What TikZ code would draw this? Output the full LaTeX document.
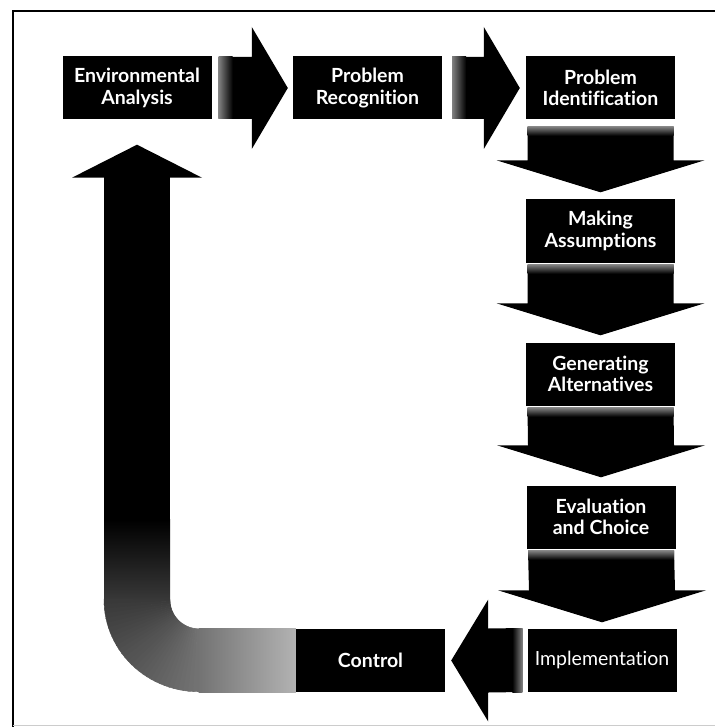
\documentclass[tikz,border=0pt]{standalone}
\usepackage{fontspec}
\setmainfont{Lato}[Ligatures=NoCommon]
\usetikzlibrary{calc}

% block arrow pointing right: tail point #1, tip point #2 (same height)
\newcommand\blockright[2]{%
  \fill[blockfill] ($(#1)+(0,-31)$) -- ($(#2)+(-36,-31)$) -- ($(#2)+(-36,-61)$) -- (#2)
    -- ($(#2)+(-36,61)$) -- ($(#2)+(-36,31)$) -- ($(#1)+(0,31)$) -- cycle;
  \shade[left color=black!50,right color=black] ($(#1)+(0,-31)$) rectangle ($(#1)+(14,31)$);
}
% block arrow pointing down: tail point #1, tip point #2
\newcommand\blockdown[2]{%
  \fill[blockfill] ($(#1)+(-73,0)$) -- ($(#2)+(-73,-32)$) -- ($(#2)+(-104,-32)$) -- (#2)
    -- ($(#2)+(104,-32)$) -- ($(#2)+(73,-32)$) -- ($(#1)+(73,0)$) -- cycle;
  \shade[top color=black!50,bottom color=black] ($(#1)+(-73,0)$) rectangle ($(#1)+(73,9)$);
}
% block arrow pointing left: tail point #1, tip point #2
\newcommand\blockleft[2]{%
  \fill[blockfill] ($(#1)+(0,-32)$) -- ($(#2)+(37,-32)$) -- ($(#2)+(37,-61)$) -- (#2)
    -- ($(#2)+(37,61)$) -- ($(#2)+(37,32)$) -- ($(#1)+(0,32)$) -- cycle;
  \shade[right color=black!50,left color=black] ($(#1)+(-10,-32)$) rectangle ($(#1)+(0,32)$);
}

\begin{document}
\begin{tikzpicture}[x=1pt,y=-1pt,
  stage/.style={fill=black,text=white,minimum width=149pt,minimum height=63pt,
    inner sep=0pt,align=center,font=\fontsize{19.5}{21.5}\selectfont\bfseries},
  stagelight/.style={stage,font=\fontsize{19.5}{21.5}\selectfont},
  blockfill/.style={fill=black},
]
\useasboundingbox (0,0) rectangle (715,727);
\fill[white] (0,0) rectangle (715,727);

% page frame
\draw[line width=1.5pt] (13,727) -- (13,11) -- (715,11);
\draw[black!20,line width=0.8pt] (13,725.5) -- (715,725.5);

% stages
\node[stage] (env)   at (137,88)   {Environmental\\Analysis};
\node[stage] (rec)   at (367.5,88) {Problem\\Recognition};
\node[stage] (ident) at (600.5,88) {Problem\\Identification};
\node[stage] (assum) at (600.5,231) {Making\\Assumptions};
\node[stage] (alt)   at (600.5,374) {Generating\\Alternatives};
\node[stage] (eval)  at (601,517)  {Evaluation\\and Choice};
\node[stagelight] (impl) at (602,660) {Implementation};
\node[stage] (ctrl)  at (370.5,660.5) {Control};

% top row arrows
\coordinate (a1s) at ($(env.east)+(7,0)$);
\coordinate (a1t) at ($(rec.west)+(-5,0)$);
\blockright{a1s}{a1t}
\coordinate (a2s) at ($(rec.east)+(10,0)$);
\coordinate (a2t) at ($(ident.west)+(-6,0)$);
\blockright{a2s}{a2t}

% right column arrows
\coordinate (d1s) at ($(ident.south)+(0,7)$);
\coordinate (d1t) at ($(assum.north)+(0,-7)$);
\blockdown{d1s}{d1t}
\coordinate (d2s) at ($(assum.south)+(0,2)$);
\coordinate (d2t) at ($(alt.north)+(0,-7)$);
\blockdown{d2s}{d2t}
\coordinate (d3s) at ($(alt.south)+(0,2)$);
\coordinate (d3t) at ($(eval.north)+(0,-8)$);
\blockdown{d3s}{d3t}
\coordinate (d4s) at ($(eval.south)+(0,2)$);
\coordinate (d4t) at ($(impl.north)+(0,-6)$);
\blockdown{d4s}{d4t}

% bottom arrow
\coordinate (l1s) at ($(impl.west)+(-5,0)$);
\coordinate (l1t) at ($(ctrl.east)+(6,0)$);
\blockleft{l1s}{l1t}

% return arrow from Control back up to Environmental Analysis
\coordinate (Lt) at ($(env.south)+(0,25)$);
\coordinate (Lh) at ($(env.south)+(0,58)$);
\coordinate (O)  at ($(env.south |- ctrl.north)+(62,-29)$);
\fill[blockfill] ($(Lh)+(-65,0)$) -- (Lt) -- ($(Lh)+(65,0)$) -- cycle;
\fill[blockfill] ($(Lh)+(-33,-0.5)$) rectangle ($(O)+(-29,-80)$);
\shade[top color=black,bottom color=black!78] ($(O)+(-95,-80.5)$) rectangle ($(O)+(-29,0.3)$);
\foreach \i in {0,...,29}{
  \pgfmathsetmacro\a{180-3*\i+0.5}
  \pgfmathsetmacro\b{180-3*\i-3}
  \pgfmathsetmacro\c{78-23*(\i+0.5)/30}
  \filldraw[black!\c,line width=0.4pt,line join=round]
    ($(O)+(\a:29)$) -- ($(O)+(\a:95 and 92)$) -- ($(O)+(\b:95 and 92)$)
    -- ($(O)+(\b:29)$) -- cycle;
}
\shade[left color=black!55,right color=black!30] ($(O)+(-0.5,29)$) rectangle (ctrl.south west);
\end{tikzpicture}
\end{document}
